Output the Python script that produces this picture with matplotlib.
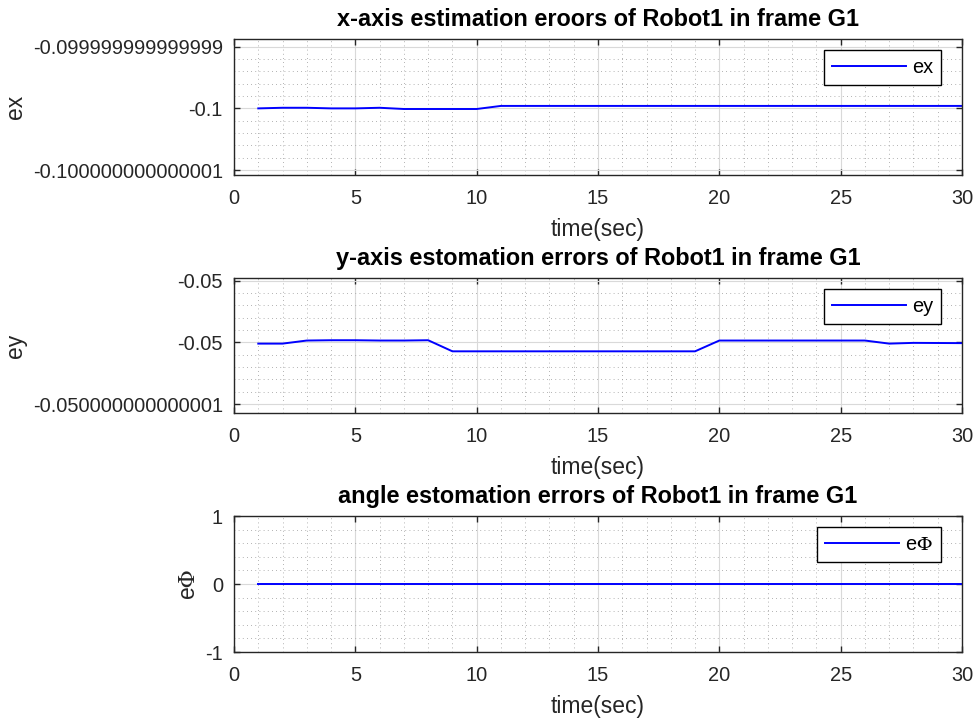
import numpy as np
import matplotlib
matplotlib.use("Agg")
import matplotlib.pyplot as plt
from matplotlib.ticker import MultipleLocator, FixedLocator

plt.rcParams['font.family'] = ['Liberation Sans', 'DejaVu Sans']
plt.rcParams['mathtext.fontset'] = 'stix'

# ---- data ----
time_sec = np.arange(1, 31)
# errors expressed as offsets from the base value, in units of 1e-15
ex_base = -0.1
ex_offset = [0.0, 0.01, 0.01, 0.0, 0.0, 0.01, -0.01, -0.01, -0.01, -0.01,
             0.04, 0.04, 0.04, 0.04, 0.04, 0.04, 0.04, 0.04, 0.04, 0.04,
             0.04, 0.04, 0.04, 0.04, 0.04, 0.04, 0.04, 0.04, 0.04, 0.04]
ey_base = -0.05
ey_offset = [-0.02, -0.02, 0.03, 0.035, 0.035, 0.03, 0.03, 0.035,
             -0.145, -0.145, -0.145, -0.145, -0.145, -0.145, -0.145, -0.145,
             -0.145, -0.145, -0.145,
             0.03, 0.03, 0.03, 0.03, 0.03, 0.03, 0.03,
             -0.02, -0.008, -0.01, -0.012]
ephi = [0.0] * 30

ex_ticks = [-1, 0, 1]
ex_ticklabels = ['-0.1' + '0' * 13 + '1', '-0.1', '-0.0' + '9' * 14]
ey_ticks = [-1, 0, 1]
ey_ticklabels = ['-0.05' + '0' * 12 + '1', '-0.05', '-0.05']
ephi_ticks = [-1, 0, 1]
ephi_ticklabels = ['-1', '0', '1']

titles = ['x-axis estimation eroors of Robot1 in frame G1',
          'y-axis estomation errors of Robot1 in frame G1',
          'angle estomation errors of Robot1 in frame G1']
ylabels = ['ex', 'ey', r'e$\Phi$']
legend_labels = ['ex', 'ey', r'e$\Phi$']
xlabel = 'time(sec)'

# ---- figure ----
W, H = 976, 720
fig = plt.figure(figsize=(W / 100, H / 100), dpi=100)

def rect(l, r, t, b):
    return [l / W, 1 - b / H, (r - l) / W, (b - t) / H]

rects = [rect(234, 962, 39.3, 175), rect(234, 962, 278.3, 413), rect(234, 962, 516, 652)]
ylims = [(-1.08, 1.12), (-1.146, 1.04), (-1, 1)]
series = [ex_offset, ey_offset, ephi]
ticks = [ex_ticks, ey_ticks, ephi_ticks]
ticklabels = [ex_ticklabels, ey_ticklabels, ephi_ticklabels]
leg_tops = [0.919, 0.921, 0.919]

dark = (0.15, 0.15, 0.15)
fs = 14.4
fs_lab = 16.5
fs_title = 16.9

for i in range(3):
    ax = fig.add_axes(rects[i])
    ax.plot(time_sec, series[i], color='#0000ff', lw=1.4, label=legend_labels[i])
    ax.set_xlim(0, 30)
    ax.set_ylim(*ylims[i])
    ax.xaxis.set_major_locator(MultipleLocator(5))
    ax.xaxis.set_minor_locator(MultipleLocator(1))
    ax.yaxis.set_major_locator(FixedLocator(ticks[i]))
    ax.yaxis.set_minor_locator(MultipleLocator(0.2))
    ax.set_yticklabels(ticklabels[i])
    ax.grid(True, which='major', color=(0.85, 0.85, 0.85), lw=0.8, ls='-')
    ax.grid(True, which='minor', color=(0.6, 0.6, 0.6), lw=0.6, ls=(0, (1, 4)))
    ax.set_axisbelow(True)
    ax.tick_params(which='major', direction='in', length=4, width=1, color=dark,
                   top=True, right=True, labelsize=fs, labelcolor=dark)
    ax.tick_params(axis='y', pad=8)
    ax.tick_params(axis='x', pad=10)
    ax.tick_params(which='minor', length=0, top=True, right=True)
    for s in ax.spines.values():
        s.set_color(dark)
        s.set_linewidth(1.0)
    ax.set_title(titles[i], fontsize=fs_title, fontweight='bold', pad=9.5)
    ax.set_xlabel(xlabel, fontsize=fs_lab, color=dark, labelpad=7)
    ax.set_ylabel(ylabels[i], fontsize=fs_lab, color=dark, labelpad=4)
    leg = ax.legend(loc='upper right', bbox_to_anchor=(0.971, leg_tops[i]),
                    borderaxespad=0, fancybox=False, framealpha=1,
                    edgecolor='black', fontsize=fs, handlelength=3.7,
                    handletextpad=0.3, borderpad=0.4)
    leg.get_frame().set_linewidth(1.0)

fig.savefig('out.png', dpi=100)
